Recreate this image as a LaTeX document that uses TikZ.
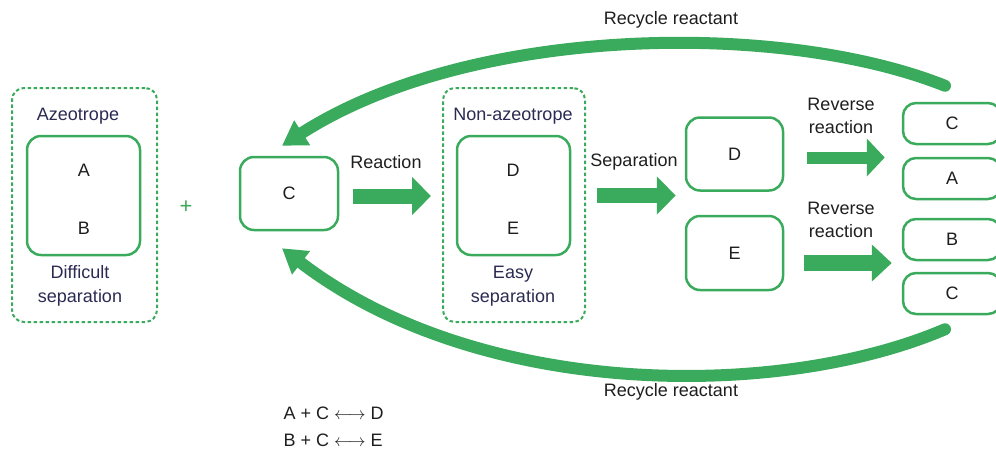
\documentclass[tikz,border=0pt]{standalone}
\usepackage{fontspec}
\setmainfont{Liberation Sans}
\usetikzlibrary{arrows.meta}
\definecolor{procgreen}{RGB}{58,170,92}
\definecolor{labelnavy}{RGB}{42,42,82}
\definecolor{textgray}{RGB}{30,30,30}

\begin{document}
\begin{tikzpicture}[x=1pt,y=-1pt,
    box/.style={draw=procgreen,line width=2.5pt,rounded corners=14pt,fill=white,inner sep=0pt},
    group/.style={draw=procgreen,line width=2pt,dash pattern=on 3.5pt off 2.5pt,rounded corners=12pt,inner sep=0pt},
    tag/.style={text=labelnavy,align=center,font=\fontsize{18}{24}\selectfont},
    txt/.style={text=textgray,align=center,font=\fontsize{18}{23}\selectfont},
    fat/.style={draw=procgreen,line width=15pt,-{Triangle[length=19pt,width=37pt]}},
    recycle/.style={draw=procgreen,line width=12pt,line cap=round,-{Triangle[length=24pt,width=28pt]}}]
    \path[use as bounding box] (0,0) rectangle (996,448);
    \clip (0,0) rectangle (996,448);
    % feed: azeotrope + entrainer
    \node[group,minimum width=145pt,minimum height=234pt] (grpL) at (84.5,205) {};
    \node[box,minimum width=113pt,minimum height=119pt] (boxAB) at (83.5,195.5) {};
    \node[tag] (azeo) at (78,116) {Azeotrope};
    \node[txt] (A) at (84,170) {A};
    \node[txt] (B) at (84,228) {B};
    \node[tag] (diff) at (80,286) {Difficult\\separation};
    \node[text=procgreen,font=\fontsize{22}{24}\selectfont] (plus) at (186,207) {+};
    \node[box,minimum width=98pt,minimum height=73pt,txt] (cbox) at (289,193.5) {C};
    % after reaction
    \node[group,minimum width=142pt,minimum height=234pt] (grpR) at (514,205) {};
    \node[box,minimum width=113pt,minimum height=119pt] (boxDE) at (513.5,195.5) {};
    \node[tag] (nonazeo) at (513,116) {Non-azeotrope};
    \node[txt] (D) at (513,170) {D};
    \node[txt] (E) at (513,228) {E};
    \node[tag] (easy) at (513,286) {Easy\\separation};
    % separated products
    \node[box,minimum width=97pt,minimum height=73pt,txt] (dbox) at (734.5,154) {D};
    \node[box,minimum width=97pt,minimum height=74pt,txt] (ebox) at (734.5,253) {E};
    \node[box,minimum width=98pt,minimum height=41pt,rounded corners=13pt,txt] (rC1) at (952,123.5) {C};
    \node[box,minimum width=98pt,minimum height=41pt,rounded corners=13pt,txt] (rA) at (952,178.5) {A};
    \node[box,minimum width=98pt,minimum height=41pt,rounded corners=13pt,txt] (rB) at (952,239.5) {B};
    \node[box,minimum width=98pt,minimum height=41pt,rounded corners=13pt,txt] (rC2) at (952,293.5) {C};
    % process arrows
    \draw[fat,shorten <=14pt,shorten >=11pt] ([yshift=-2.5pt]cbox.east) -- ([yshift=-2.5pt]cbox.east -| grpR.west);
    \draw[fat,shorten <=11pt,shorten >=9pt] ([yshift=-2pt]cbox.east -| grpR.east) -- ([yshift=-2pt]cbox.east -| dbox.west);
    \draw[fat,line width=12pt,-{Triangle[length=18pt,width=37pt]},shorten <=23pt,shorten >=17pt] ([yshift=-3.5pt]dbox.east) -- ([yshift=-3.5pt]dbox.east -| rC1.west);
    \draw[fat,line width=16pt,-{Triangle[length=20pt,width=36pt]},shorten <=20pt,shorten >=10pt] ([yshift=-10pt]ebox.east) -- ([yshift=-10pt]ebox.east -| rB.west);
    \node[txt] (lreac) at (386,162) {Reaction};
    \node[txt] (lsep) at (634,162) {Separation};
    \node[txt] (lrev1) at (841,116) {Reverse\\reaction};
    \node[txt] (lrev2) at (841,220) {Reverse\\reaction};
    % recycle loops
    \draw[recycle] ([xshift=-7pt,yshift=16pt]rC1.north) .. controls (780,20) and (470,25) .. ([xshift=-7pt,yshift=10pt]cbox.north);
    \draw[recycle] ([xshift=-7pt,yshift=-14pt]rC2.south) .. controls (780,400) and (480,400) .. ([xshift=-7pt,yshift=-17pt]cbox.south);
    \node[txt] (rtop) at (671,20) {Recycle reactant};
    \node[txt] (rbot) at (671,392) {Recycle reactant};
    % reactions
    \node[txt,anchor=west] (eq1) at (280,413) {A + C $\longleftrightarrow$ D};
    \node[txt,anchor=west] (eq2) at (280,440) {B + C $\longleftrightarrow$ E};
\end{tikzpicture}
\end{document}
